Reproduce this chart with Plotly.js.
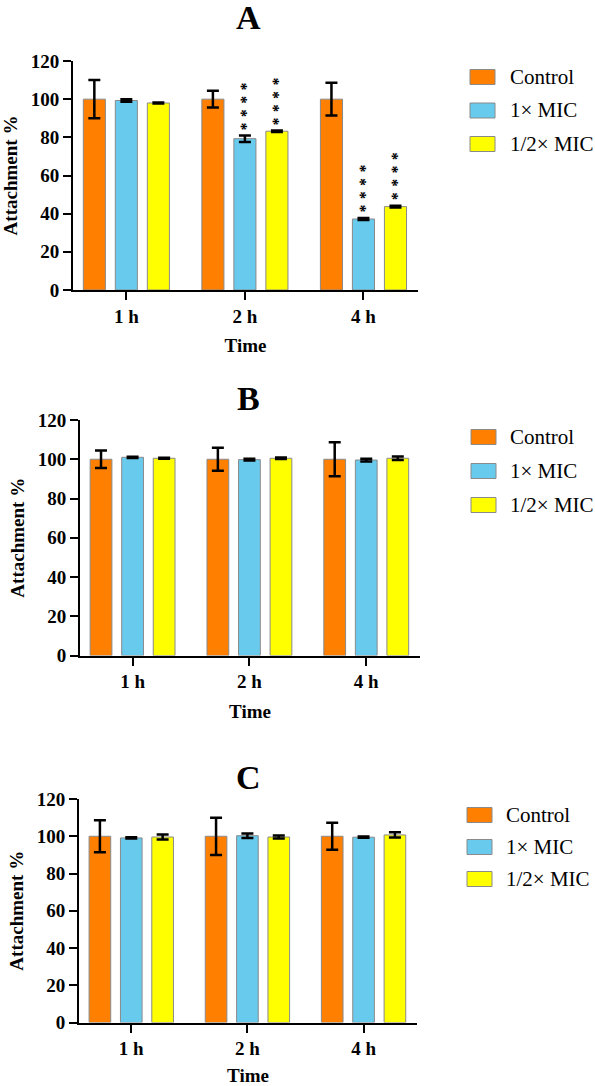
<!DOCTYPE html>
<html>
<head>
<meta charset="utf-8">
<script src="https://cdn.plot.ly/plotly-3.0.1.min.js"></script>
<style>html,body{margin:0;padding:0;background:#fff;}#chart{width:595px;height:1086px;}</style>
</head>
<body>
<div id="chart"></div>
<script>
// ---------- data ----------
const categories = ['1 h', '2 h', '4 h'];
const seriesNames = ['Control', '1× MIC', '1/2× MIC'];
const panelTitles = ['A', 'B', 'C'];
const xAxisTitle = 'Time';
const yAxisTitle = 'Attachment %';
const yTicks = [0, 20, 40, 60, 80, 100, 120];

// Panel A
const controlA = [100, 100, 100];
const controlA_err = [10, 4.4, 8.6];
const mic1A = [99.3, 79.3, 37.2];
const mic1A_err = [0.7, 1.7, 0.5];
const halfMicA = [98.0, 83.2, 43.7];
const halfMicA_err = [0.3, 0.4, 0.5];
const starsA_mic1 = ['', '****', '****'];
const starsA_halfMic = ['', '****', '****'];

// Panel B
const controlB = [100, 100, 100];
const controlB_err = [4.5, 5.9, 8.7];
const mic1B = [101.0, 99.8, 99.6];
const mic1B_err = [0.3, 0.5, 0.7];
const halfMicB = [100.5, 100.5, 100.5];
const halfMicB_err = [0.3, 0.4, 0.9];

// Panel C
const controlC = [100, 100, 100];
const controlC_err = [8.6, 10, 7.2];
const mic1C = [99.1, 100.3, 99.5];
const mic1C_err = [0.3, 1.2, 0.3];
const halfMicC = [99.6, 99.6, 100.7];
const halfMicC_err = [1.3, 0.8, 1.4];

// ---------- styling / layout ----------
const W = 595, H = 1086;
const colors = ['#FF7F00', '#68CBEE', '#FFFF00'];
const outline = '#8a8a8a';
const serif = 'Liberation Serif, Times New Roman, serif';
const BARGAP = 0.19;

const panels = [
  {vals: [controlA, mic1A, halfMicA], errs: [controlA_err, mic1A_err, halfMicA_err],
   stars: [null, starsA_mic1, starsA_halfMic],
   xpx: [73, 418], ypx: [61, 290], titleY: 18, legX: 470, legY: [77, 110.5, 144], legTextX: 508},
  {vals: [controlB, mic1B, halfMicB], errs: [controlB_err, mic1B_err, halfMicB_err],
   stars: [null, null, null],
   xpx: [80, 420], ypx: [420, 655.5], titleY: 398, legX: 471, legY: [437, 471, 505], legTextX: 508},
  {vals: [controlC, mic1C, halfMicC], errs: [controlC_err, mic1C_err, halfMicC_err],
   stars: [null, null, null],
   xpx: [79, 417], ypx: [799, 1022.5], titleY: 777, legX: 467, legY: [815, 847, 879], legTextX: 504}
];

const px2x = p => p / W;
const px2y = p => 1 - p / H;

const traces = [];
const layout = {
  width: W, height: H,
  margin: {l: 0, r: 0, t: 0, b: 0},
  paper_bgcolor: '#fff', plot_bgcolor: '#fff',
  barmode: 'group', bargap: BARGAP, bargroupgap: 0.31,
  showlegend: false,
  font: {family: serif, color: '#000'},
  annotations: [], shapes: []
};

const tickFont = {family: serif, size: 19, weight: 700, color: '#000'};
const titleFont = {family: serif, size: 19, weight: 700, color: '#000'};

panels.forEach((p, i) => {
  const n = i === 0 ? '' : String(i + 1);
  const xa = 'x' + n, ya = 'y' + n;
  for (let s = 0; s < 3; s++) {
    traces.push({
      type: 'bar', name: seriesNames[s], x: categories, y: p.vals[s],
      xaxis: xa, yaxis: ya,
      marker: {color: colors[s], line: {color: outline, width: 1}},
      error_y: {type: 'data', array: p.errs[s], visible: true, color: '#000', thickness: 2.5, width: 6},
      hoverinfo: 'skip'
    });
    // significance stars: one vertical text per bar
    if (p.stars[s]) {
      const slot = (1 - BARGAP) / 3;
      p.stars[s].forEach((str, c) => {
        if (!str) return;
        layout.annotations.push({
          xref: xa, yref: ya, x: c + (s - 1) * slot, y: p.vals[s][c] + p.errs[s][c],
          text: str.split('').join(' \u200A'), textangle: 90,
          showarrow: false, yanchor: 'bottom', xanchor: 'center',
          xshift: -3, yshift: 4, borderpad: 0,
          font: {family: serif, size: 16, weight: 700, color: '#000'}
        });
      });
    }
  }
  layout['xaxis' + n] = {
    domain: [px2x(p.xpx[0]), px2x(p.xpx[1])], anchor: ya,
    type: 'category', range: [-0.45, 2.46],
    showline: true, linewidth: 2, linecolor: '#000',
    ticks: 'outside', ticklen: 8, tickwidth: 2, tickcolor: '#000',
    tickfont: tickFont,
    showgrid: false, zeroline: false, fixedrange: true,
    title: {text: xAxisTitle, font: titleFont, standoff: 13}
  };
  layout['yaxis' + n] = {
    domain: [px2y(p.ypx[1]), px2y(p.ypx[0])], anchor: xa,
    range: [0, 120], tickvals: yTicks,
    showline: true, linewidth: 2, linecolor: '#000',
    ticks: 'outside', ticklen: 8, tickwidth: 2, tickcolor: '#000',
    tickfont: tickFont,
    showgrid: false, zeroline: false, fixedrange: true,
    title: {text: yAxisTitle, font: titleFont, standoff: 8}
  };
  // panel title
  layout.annotations.push({
    xref: 'paper', yref: 'paper', x: px2x(248), y: px2y(p.titleY),
    text: '<b>' + panelTitles[i] + '</b>', showarrow: false, xanchor: 'center', yanchor: 'middle',
    font: {family: serif, size: 34, color: '#000'}
  });
  // legend
  for (let s = 0; s < 3; s++) {
    const cy = p.legY[s];
    layout.shapes.push({
      type: 'rect', xref: 'paper', yref: 'paper',
      x0: px2x(p.legX), x1: px2x(p.legX + 25), y0: px2y(cy + 7.5), y1: px2y(cy - 7.5),
      fillcolor: colors[s], line: {color: outline, width: 1}
    });
    layout.annotations.push({
      xref: 'paper', yref: 'paper', x: px2x(p.legTextX), y: px2y(cy),
      text: seriesNames[s], showarrow: false, xanchor: 'left', yanchor: 'middle',
      font: {family: serif, size: 21, color: '#000'}
    });
  }
});

Plotly.newPlot('chart', traces, layout, {staticPlot: true});
</script>
</body>
</html>
